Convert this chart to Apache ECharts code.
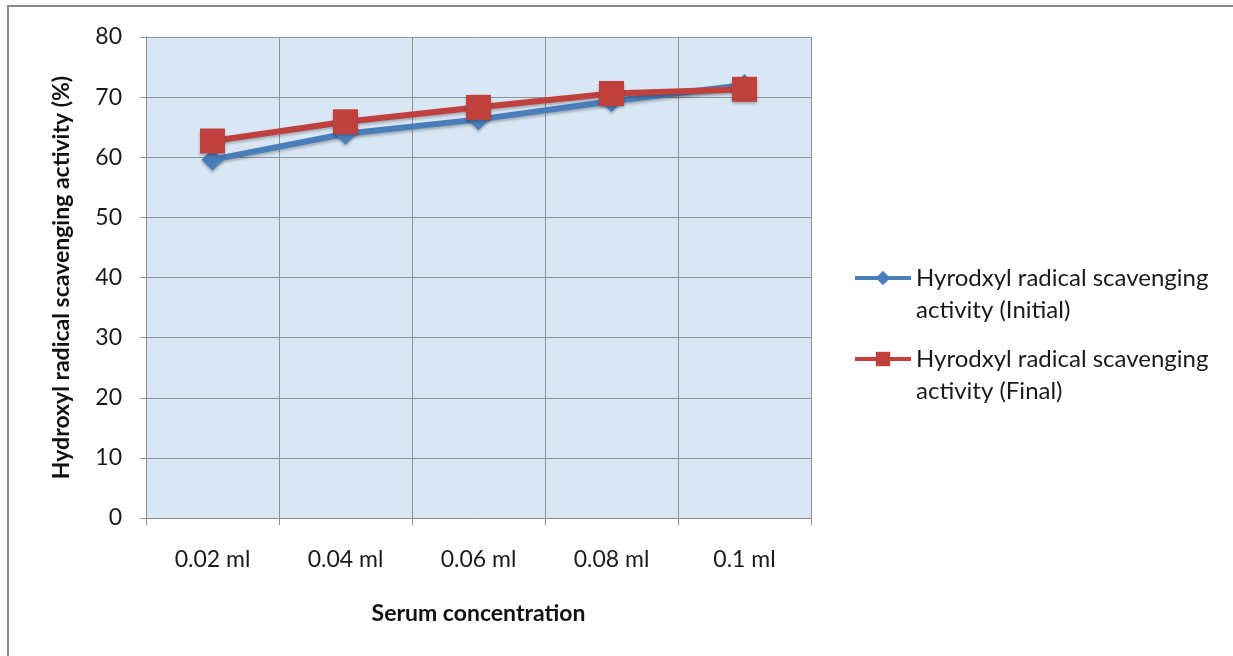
<!DOCTYPE html>
<html>
<head>
<meta charset="utf-8">
<script src="https://cdn.jsdelivr.net/npm/echarts@6/dist/echarts.min.js"></script>
<style>
  html, body { margin: 0; padding: 0; background: #fff; }
  #chart { width: 1233px; height: 656px; }
</style>
</head>
<body>
<div id="chart"></div>
<script>
// Serum concentration categories
const categories = ['0.02 ml', '0.04 ml', '0.06 ml', '0.08 ml', '0.1 ml'];
// Hydroxyl radical scavenging activity (%)
const initialValues = [59.6, 63.9, 66.3, 69.3, 72.0];
const finalValues = [62.7, 65.9, 68.3, 70.6, 71.3];
const yTicks = { min: 0, max: 80, interval: 10 };
const seriesNames = [
  'Hyrodxyl radical scavenging\nactivity (Initial)',
  'Hyrodxyl radical scavenging\nactivity (Final)'
];

const FONT = 'Lato, "Open Sans", sans-serif';
const BLUE = '#4a7ebb';
const RED = '#c0403d';
const chart = echarts.init(document.getElementById('chart'));

// Legend entry: icon sits beside the first text line (a blank leading line
// keeps the two-line label's first row centred on the icon).
function legendFor(name, top) {
  return {
    orient: 'vertical',
    left: 848,
    top: top,
    itemWidth: 56,
    itemHeight: 18,
    itemGap: 5,
    lineStyle: { width: 4 },
    formatter: n => '\n' + n,
    textStyle: { fontFamily: FONT, fontSize: 24, color: '#1a1a1a', lineHeight: 32 },
    data: [name]
  };
}

const shadow = { shadowColor: 'rgba(0,0,0,0.28)', shadowBlur: 3, shadowOffsetY: 2 };

chart.setOption({
  animation: false,
  backgroundColor: '#ffffff',
  graphic: [{
    type: 'rect',
    shape: { x: 8, y: 6, width: 1300, height: 700 },
    style: { fill: 'none', stroke: '#8a8a8a', lineWidth: 2 },
    silent: true
  }],
  grid: {
    left: 146, right: 422, top: 37, bottom: 138,
    show: true,
    backgroundColor: '#d9e6f4',
    borderWidth: 0
  },
  legend: [legendFor(seriesNames[0], 225), legendFor(seriesNames[1], 306)],
  xAxis: {
    type: 'category',
    data: categories,
    boundaryGap: true,
    name: 'Serum concentration',
    nameLocation: 'middle',
    nameGap: 84,
    nameTextStyle: { fontFamily: FONT, fontSize: 23, fontWeight: 'bold', color: '#111' },
    axisLine: { lineStyle: { color: '#8c8c8c', width: 1 } },
    axisTick: { show: true, length: 7, alignWithLabel: false, lineStyle: { color: '#8c8c8c' } },
    axisLabel: { fontFamily: FONT, fontSize: 23, color: '#1a1a1a', margin: 30 },
    splitLine: { show: true, lineStyle: { color: '#8f949a', width: 1 } }
  },
  yAxis: {
    type: 'value',
    min: yTicks.min, max: yTicks.max, interval: yTicks.interval,
    name: 'Hydroxyl radical scavenging activity (%)',
    nameLocation: 'middle',
    nameGap: 73,
    nameRotate: 90,
    nameTextStyle: { fontFamily: FONT, fontSize: 23, fontWeight: 'bold', color: '#111' },
    axisLine: { show: true, lineStyle: { color: '#8c8c8c', width: 1 } },
    axisTick: { show: true, length: 6, lineStyle: { color: '#8c8c8c' } },
    axisLabel: { fontFamily: FONT, fontSize: 23, color: '#1a1a1a', margin: 24 },
    splitLine: { show: true, lineStyle: { color: '#8f949a', width: 1 } }
  },
  series: [
    {
      name: seriesNames[0],
      type: 'line',
      data: initialValues,
      symbol: 'diamond',
      symbolSize: 22,
      lineStyle: Object.assign({ color: BLUE, width: 6 }, shadow),
      itemStyle: Object.assign({ color: BLUE }, shadow),
      z: 2
    },
    {
      name: seriesNames[1],
      type: 'line',
      data: finalValues,
      symbol: 'rect',
      symbolSize: 25,
      lineStyle: Object.assign({ color: RED, width: 6 }, shadow),
      itemStyle: Object.assign({ color: RED }, shadow),
      z: 3
    }
  ]
});
</script>
</body>
</html>
